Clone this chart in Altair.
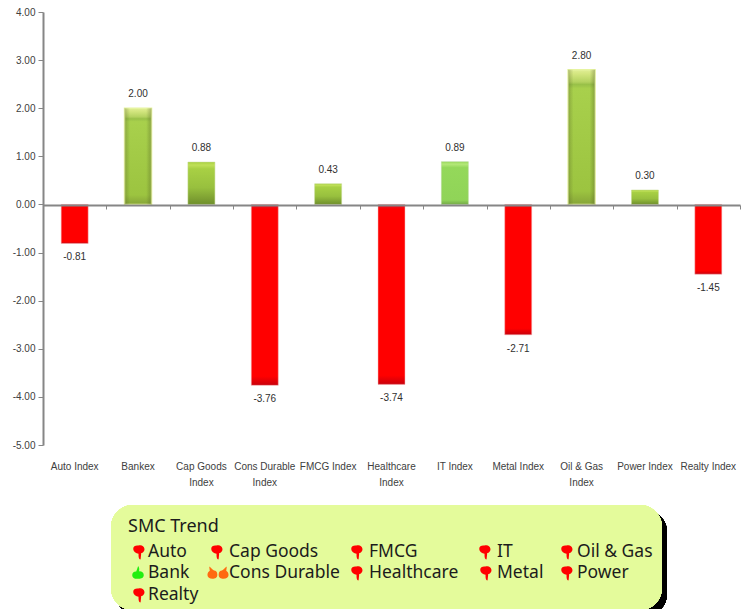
import altair as alt
import pandas as pd

# Sector index moves
sectors = ["Auto Index", "Bankex", "Cap Goods\nIndex", "Cons Durable\nIndex", "FMCG Index",
           "Healthcare\nIndex", "IT Index", "Metal Index", "Oil & Gas\nIndex", "Power Index", "Realty Index"]
changes = [-0.81, 2.00, 0.88, -3.76, 0.43, -3.74, 0.89, -2.71, 2.80, 0.30, -1.45]

# SMC trend panel entries
trend_names = ["Auto", "Cap Goods", "FMCG", "IT", "Oil & Gas",
               "Bank", "Cons Durable", "Healthcare", "Metal", "Power", "Realty"]
trend_calls = ["down", "down", "down", "down", "down",
               "up", "neutral", "down", "down", "down", "down"]

# Page layout of the plot area and of the trend panel
LEFT, TOP, W, H = 43, 12, 697, 433
ZERO_OFFSET = -240
text_x = [148, 229, 369, 497, 577, 148, 229, 369, 497, 577, 148]
icon_x = [139, 217, 357, 485, 567, 138, 218, 357, 486, 567, 139]
row_y = [552] * 5 + [573] * 5 + [595]

CHART_FONT = "Liberation Sans"
PANEL_FONT = "Noto Sans"
AXIS_GREY = "#868686"

bars = pd.DataFrame({
    "sector": sectors,
    "change": changes,
    "shown": [f"{v:.2f}" for v in changes],
})
panel = pd.DataFrame({
    "name": trend_names, "call": trend_calls,
    "tx": [v - LEFT for v in text_x],
    "ix": [v - LEFT for v in icon_x],
    "py": [v - TOP for v in row_y],
})

band = alt.Scale(type="band", domain=sectors, padding=0)
value_scale = alt.Scale(domain=[-5, 4])
x_plain = alt.X("sector:N", sort=sectors, scale=band, axis=None)
y_plain = alt.Y("change:Q", scale=value_scale, axis=None)


def vgrad(stops):
    return alt.Gradient(
        gradient="linear", x1=0, x2=0, y1=0, y2=1,
        stops=[alt.GradientStop(offset=o, color=c) for o, c in stops],
    )


def hgrad(stops):
    return alt.Gradient(
        gradient="linear", x1=0, x2=1, y1=0, y2=0,
        stops=[alt.GradientStop(offset=o, color=c) for o, c in stops],
    )


def bar_layer(test, fill, **kw):
    return (
        alt.Chart(bars).transform_filter(test)
        .mark_bar(size=27, color=fill, **kw)
        .encode(x=x_plain, y=y_plain, y2=alt.Y2(datum=0))
    )


# Value axis, plus the category axis that runs along the zero line
axes = alt.Chart(bars).mark_bar(opacity=0).encode(
    x=alt.X("sector:N", sort=sectors, scale=band, title=None, axis=alt.Axis(
        offset=ZERO_OFFSET, labels=False, ticks=True, tickBand="extent", tickSize=4,
        tickColor=AXIS_GREY, tickWidth=1, domainColor=AXIS_GREY, domainWidth=2,
        grid=False, zindex=1)),
    y=alt.Y("change:Q", scale=value_scale, title=None, axis=alt.Axis(
        values=[-5, -4, -3, -2, -1, 0, 1, 2, 3, 4], format=".2f",
        labelExpr="replace(datum.label, '\u2212', '-')", tickSize=5,
        tickColor=AXIS_GREY, tickWidth=1, domainColor=AXIS_GREY, domainWidth=2,
        labelFont=CHART_FONT, labelFontSize=10, labelColor="#404040", labelPadding=3,
        grid=False)),
)

# Category names sit below the plot, split over two lines where needed
names = alt.Chart(bars).mark_text(
    font=CHART_FONT, fontSize=10, color="#404040", baseline="top", lineBreak="\n", lineHeight=16,
).encode(x=x_plain, y=alt.value(H + 17), text="sector:N")

red = bar_layer("datum.change < 0", vgrad([
    (0, "#c4303a"), (0.012, "#e8101c"), (0.025, "#ff0000"),
    (0.95, "#ff0000"), (1, "#c8000c"),
]), stroke="#f4b8b8", strokeWidth=0.5)

olive = bar_layer("datum.change > 0 && datum.change < 2 && datum.sector != 'IT Index'", vgrad([
    (0, "#a8d040"), (0.07, "#c0e058"), (0.16, "#a8d044"),
    (0.6, "#98c03e"), (1, "#6f8f2c"),
]), stroke="#c4d890", strokeWidth=0.5)

bright = bar_layer("datum.sector == 'IT Index'", vgrad([
    (0, "#98d85a"), (0.06, "#b4e878"), (0.14, "#94d85a"),
    (0.9, "#90d458"), (1, "#74a848"),
]), stroke="#b4d898", strokeWidth=0.5)

tall = bar_layer("datum.change >= 2", vgrad([
    (0, "#e0ee96"), (0.03, "#d4e680"), (0.09, "#b4d260"), (0.11, "#98c048"),
    (0.14, "#a8d04c"), (0.9, "#9cc440"), (1, "#86a438"),
]), stroke="#e6f4a0", strokeWidth=1.5)

tall_sheen = bar_layer("datum.change >= 2", hgrad([
    (0, "rgba(70,80,30,0.3)"), (0.2, "rgba(70,80,30,0)"),
    (0.8, "rgba(70,80,30,0)"), (1, "rgba(70,80,30,0.35)"),
]))

labels_up = alt.Chart(bars).transform_filter("datum.change >= 0").mark_text(
    font=CHART_FONT, fontSize=10, color="#303030", baseline="middle", dy=-14,
).encode(x=x_plain, y=y_plain, text="shown:N")

labels_down = alt.Chart(bars).transform_filter("datum.change < 0").mark_text(
    font=CHART_FONT, fontSize=10, color="#303030", baseline="middle", dy=14,
).encode(x=x_plain, y=y_plain, text="shown:N")


def frame(x0, x1, y0, y1, color):
    return alt.Chart(bars).mark_rect(color=color, cornerRadius=22).encode(
        x=alt.value(x0 - LEFT), x2=alt.value(x1 - LEFT),
        y=alt.value(y0 - TOP), y2=alt.value(y1 - TOP),
    )


shadow = frame(116, 667, 510, 616, "#000000")
card = frame(111, 662, 505, 610, "#e4fb9b")

heading = alt.Chart(bars).transform_filter("datum.sector == 'Auto Index'").mark_text(
    font=PANEL_FONT, fontSize=18, color="#1c1c1c", align="left", baseline="middle", text="SMC Trend",
).encode(x=alt.value(128 - LEFT), y=alt.value(527 - TOP))

panel_x = alt.X("tx:Q", scale=None, axis=None)
panel_y = alt.Y("py:Q", scale=None, axis=None)

entries = alt.Chart(panel).mark_text(
    font=PANEL_FONT, fontSize=17.5, color="#1c1c1c", align="left", baseline="middle",
).encode(x=panel_x, y=panel_y, text="name:N")

THUMB_DOWN = ("M-0.72,-0.42 C-0.72,-0.72 -0.4,-0.85 -0.1,-0.8 C0.25,-0.95 0.62,-0.8 0.68,-0.42 "
              "C0.72,-0.1 0.45,0.12 0.28,0.12 L0.2,0.92 C0.02,0.98 -0.08,0.75 -0.06,0.22 "
              "C-0.35,0.15 -0.72,-0.05 -0.72,-0.42 Z")
THUMB_UP = ("M-0.72,0.3 C-0.75,-0.05 -0.5,-0.2 -0.22,-0.18 L0.02,-0.88 C0.16,-0.72 0.2,-0.4 0.12,-0.2 "
            "C0.4,-0.25 0.7,-0.1 0.72,0.25 C0.72,0.62 0.35,0.75 0,0.72 C-0.35,0.78 -0.7,0.65 -0.72,0.3 Z")
THUMBS_SIDE = ("M-0.96,0.18 C-0.96,-0.02 -0.85,-0.12 -0.75,-0.2 L-0.8,-0.58 C-0.62,-0.45 -0.5,-0.3 -0.36,-0.22 "
               "C-0.2,-0.22 -0.06,-0.08 -0.06,0.15 C-0.06,0.42 -0.26,0.52 -0.5,0.52 C-0.76,0.52 -0.96,0.4 -0.96,0.18 Z "
               "M0.96,0.18 C0.96,-0.02 0.85,-0.12 0.75,-0.2 L0.8,-0.58 C0.62,-0.45 0.5,-0.3 0.36,-0.22 "
               "C0.2,-0.22 0.06,-0.08 0.06,0.15 C0.06,0.42 0.26,0.52 0.5,0.52 C0.76,0.52 0.96,0.4 0.96,0.18 Z")


def icons(call, shape, size, color):
    return alt.Chart(panel).transform_filter(f"datum.call == '{call}'").mark_point(
        shape=shape, filled=True, size=size, color=color, opacity=1, strokeWidth=0,
    ).encode(x=alt.X("ix:Q", scale=None, axis=None), y=panel_y)


chart = alt.layer(
    axes, names, red, olive, bright, tall, tall_sheen, labels_up, labels_down,
    shadow, card, heading, entries,
    icons("down", THUMB_DOWN, 256, "#ff0000"),
    icons("up", THUMB_UP, 256, "#22ee11"),
    icons("neutral", THUMBS_SIDE, 484, "#ff6a10"),
).resolve_scale(x="independent", y="independent").properties(
    width=W, height=H,
    padding={"left": LEFT, "top": TOP, "right": 746 - LEFT - W, "bottom": 609 - TOP - H},
    autosize=alt.AutoSizeParams(type="none"),
    background="#ffffff",
).configure_view(stroke=None)

chart.save("out.html", embed_options={"renderer": "svg", "actions": False})
